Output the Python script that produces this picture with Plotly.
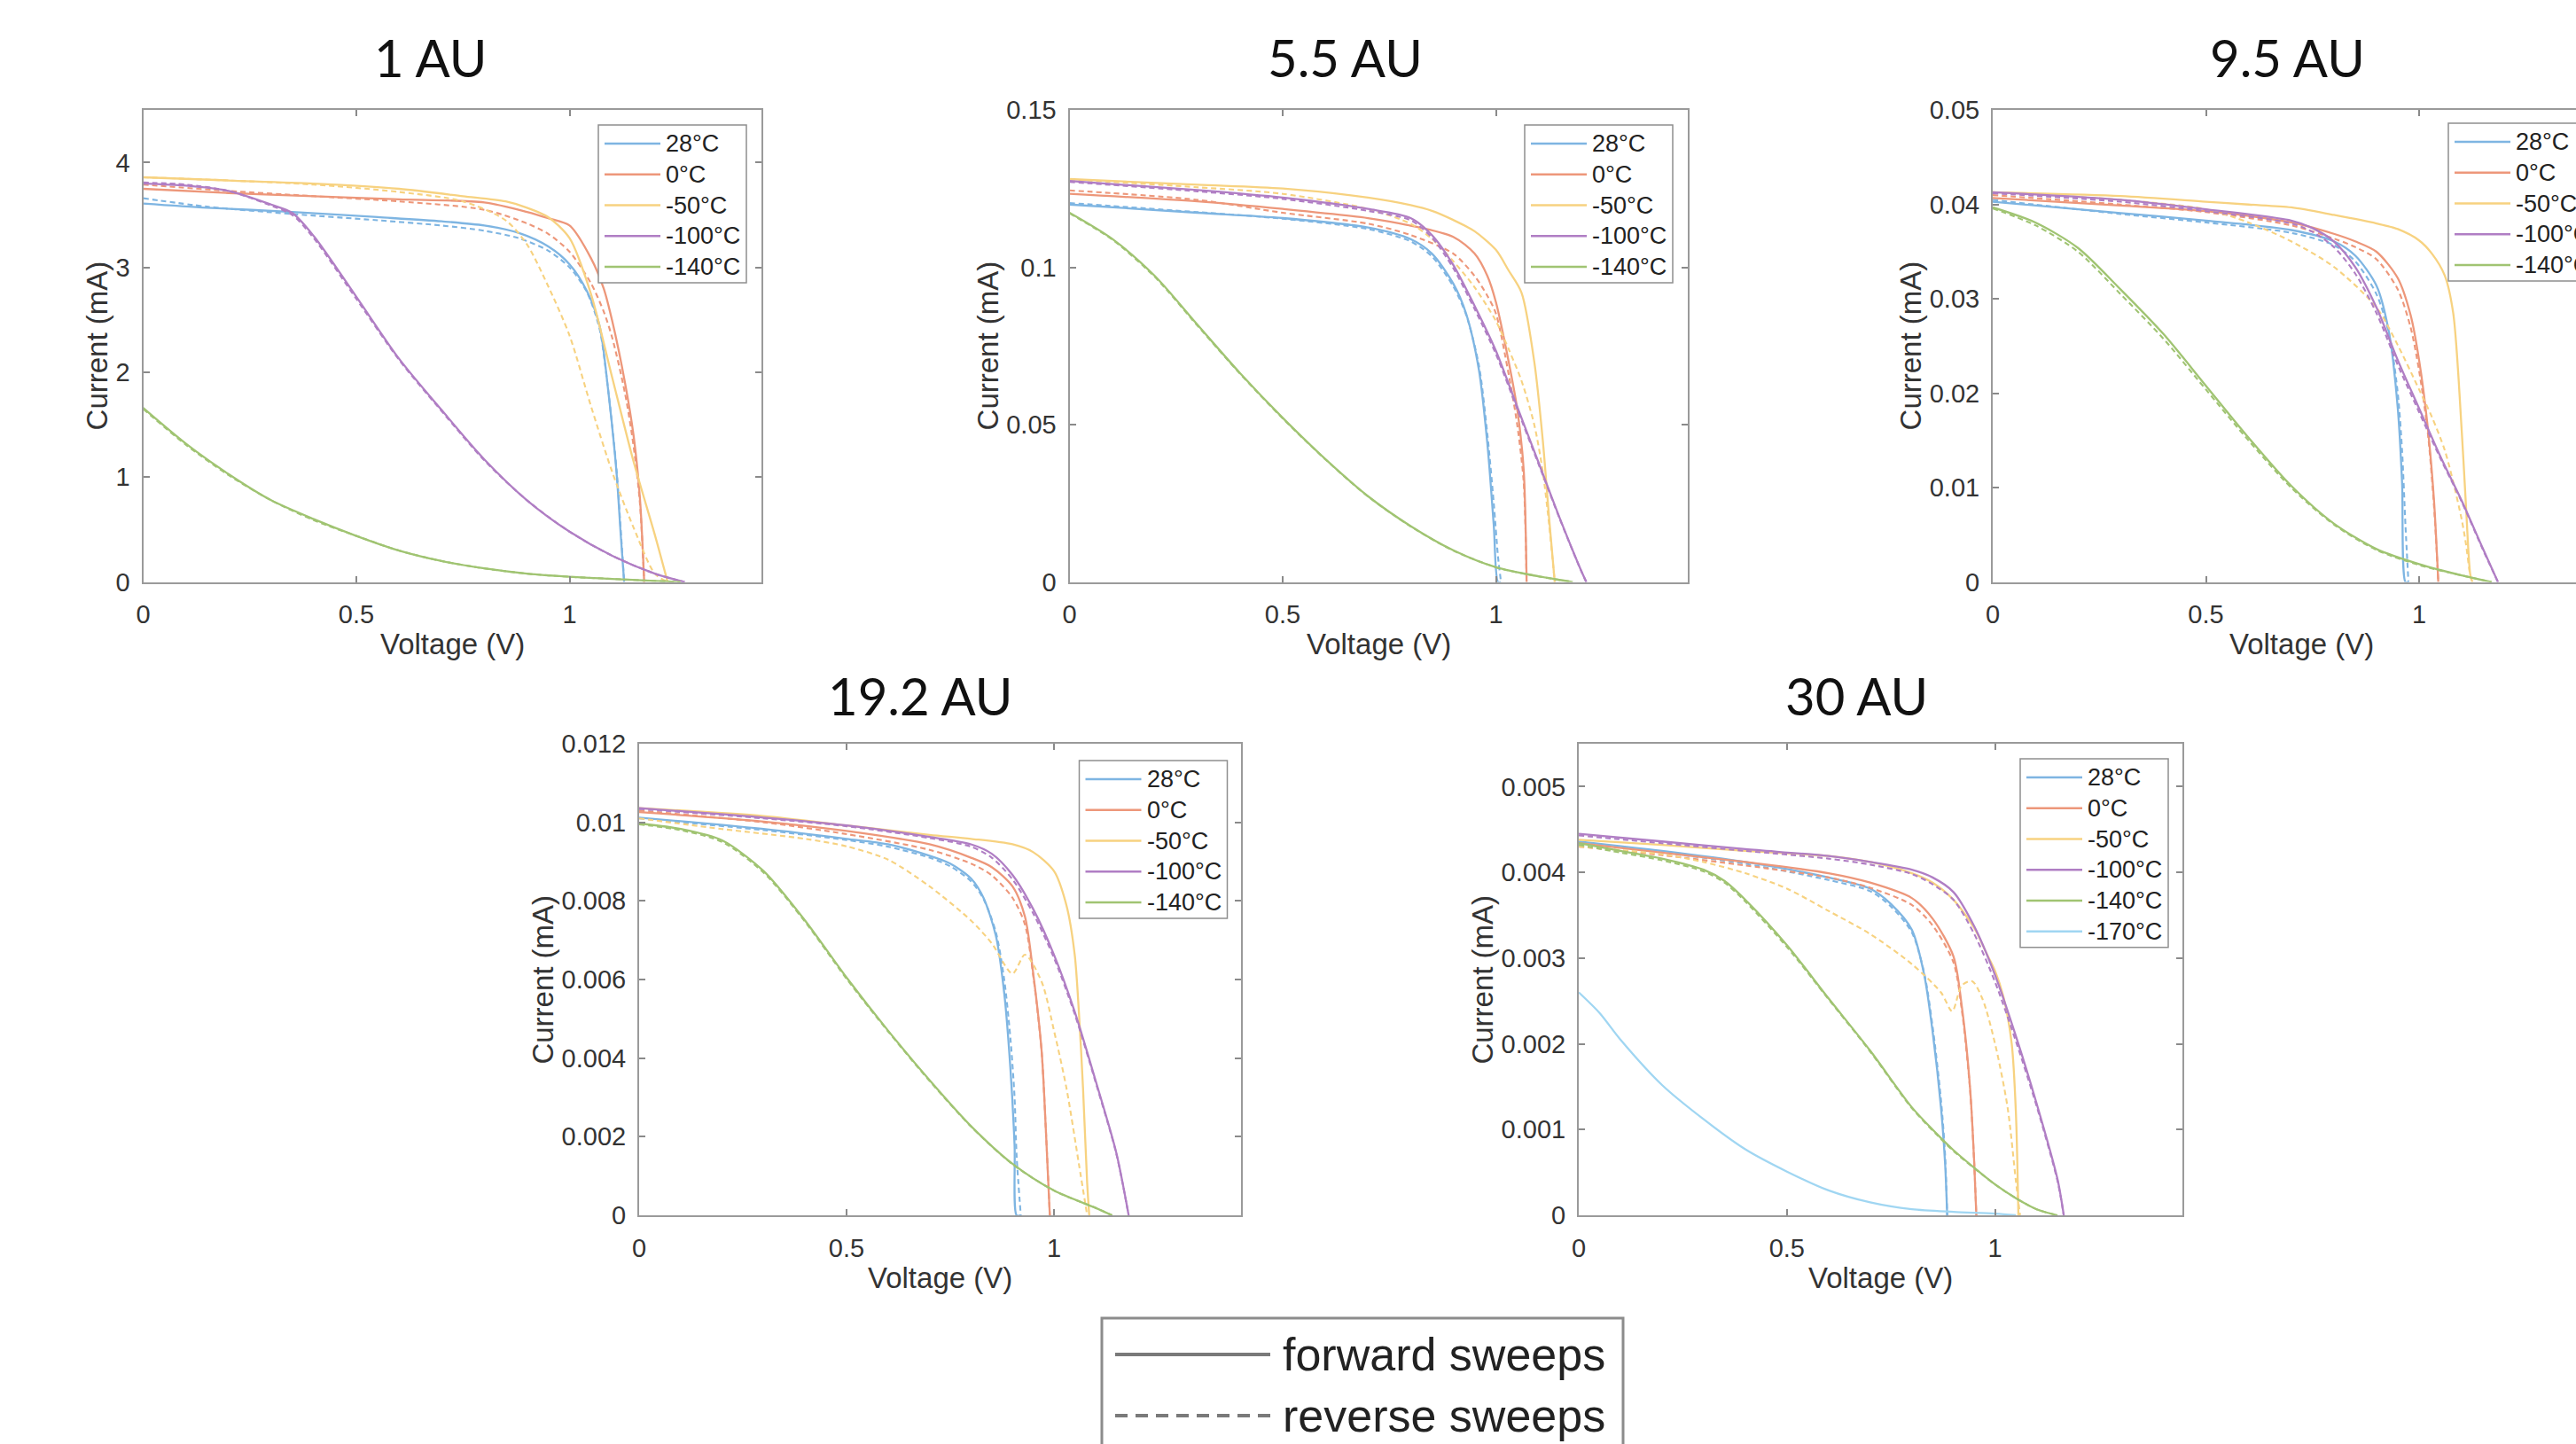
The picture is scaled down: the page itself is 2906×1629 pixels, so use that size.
import plotly.graph_objects as go

W, H = 2906, 1629

# ---------------- labels / categories ----------------
TEMPS = ["28°C", "0°C", "-50°C", "-100°C", "-140°C", "-170°C"]
COLORS = ["rgb(126,181,226)", "rgb(237,151,122)", "rgb(247,210,128)",
          "rgb(176,126,196)", "rgb(160,196,114)", "rgb(160,214,242)"]
PANEL_TITLES = ["1 AU", "5.5 AU", "9.5 AU", "19.2 AU", "30 AU"]
X_TICKS = [0, 0.5, 1]
X_TICKTEXT = ["0", "0.5", "1"]
Y_TICKS = [
    [0, 1, 2, 3, 4],
    [0, 0.05, 0.1, 0.15],
    [0, 0.01, 0.02, 0.03, 0.04, 0.05],
    [0, 0.002, 0.004, 0.006, 0.008, 0.01, 0.012],
    [0, 0.001, 0.002, 0.003, 0.004, 0.005],
]
Y_TICKTEXT = [
    ["0", "1", "2", "3", "4"],
    ["0", "0.05", "0.1", "0.15"],
    ["0", "0.01", "0.02", "0.03", "0.04", "0.05"],
    ["0", "0.002", "0.004", "0.006", "0.008", "0.01", "0.012"],
    ["0", "0.001", "0.002", "0.003", "0.004", "0.005"],
]
Y_MAX = [4.5, 0.15, 0.05, 0.012, 0.0055]
X_LABEL = "Voltage (V)"
Y_LABEL = "Current (mA)"
SWEEP_LABELS = ["forward sweeps", "reverse sweeps"]

# ---------------- 1 AU ----------------
AU1_28_V = [0, 0.15, 0.35, 0.55, 0.7, 0.8, 0.88, 0.95, 1.0, 1.04, 1.07, 1.09, 1.11, 1.12, 1.128]
AU1_28_F = [3.61, 3.57, 3.53, 3.48, 3.44, 3.40, 3.33, 3.20, 3.03, 2.78, 2.45, 1.85, 1.05, 0.45, 0.0]
AU1_28_R = [3.66, 3.58, 3.51, 3.45, 3.40, 3.35, 3.28, 3.16, 3.00, 2.77, 2.42, 1.85, 1.08, 0.50, 0.0]
AU1_0_V = [0, 0.2, 0.4, 0.6, 0.8, 0.9, 0.95, 1.0, 1.05, 1.08, 1.1, 1.13, 1.15, 1.165, 1.175]
AU1_0_F = [3.75, 3.71, 3.68, 3.65, 3.62, 3.53, 3.47, 3.40, 3.09, 2.80, 2.49, 1.90, 1.40, 0.80, 0.0]
AU1_0_R = [3.79, 3.73, 3.68, 3.63, 3.55, 3.42, 3.32, 3.15, 2.85, 2.58, 2.33, 1.80, 1.30, 0.75, 0.0]
AU1_m50_V = [0, 0.2, 0.4, 0.6, 0.75, 0.85, 0.9, 0.95, 1.0, 1.05, 1.1, 1.15, 1.2, 1.23]
AU1_m50_F = [3.86, 3.83, 3.80, 3.75, 3.68, 3.63, 3.57, 3.48, 3.28, 2.75, 1.95, 1.15, 0.45, 0.0]
AU1_m50_R = [3.86, 3.83, 3.79, 3.72, 3.63, 3.45, 3.22, 2.82, 2.35, 1.68, 1.05, 0.52, 0.08, 0.0]
AU1_m100_V = [0, 0.1, 0.2, 0.3, 0.35, 0.4, 0.5, 0.6, 0.7, 0.8, 0.9, 1.0, 1.1, 1.2, 1.27]
AU1_m100_F = [3.80, 3.78, 3.73, 3.60, 3.52, 3.30, 2.72, 2.13, 1.64, 1.17, 0.78, 0.48, 0.25, 0.08, 0.0]
AU1_m100_R = [3.81, 3.79, 3.73, 3.59, 3.50, 3.28, 2.70, 2.12, 1.63, 1.16, 0.78, 0.48, 0.25, 0.08, 0.0]
AU1_m140_V = [0, 0.1, 0.2, 0.3, 0.4, 0.5, 0.6, 0.7, 0.8, 0.9, 1.0, 1.1, 1.2, 1.26]
AU1_m140_F = [1.66, 1.32, 1.03, 0.78, 0.60, 0.44, 0.30, 0.20, 0.13, 0.08, 0.05, 0.03, 0.01, 0.0]
AU1_m140_R = [1.65, 1.31, 1.02, 0.78, 0.59, 0.44, 0.30, 0.20, 0.13, 0.08, 0.05, 0.03, 0.01, 0.0]

# ---------------- 5.5 AU ----------------
AU5_28_V = [0, 0.3, 0.5, 0.7, 0.8, 0.85, 0.9, 0.93, 0.96, 0.98, 0.995, 1.005, 1.012]
AU5_28_F = [0.1200, 0.1174, 0.1157, 0.1127, 0.1090, 0.1044, 0.0949, 0.0854, 0.0676, 0.0440, 0.0180, 0.0, 0.0]
AU5_28_R = [0.1205, 0.1176, 0.1155, 0.1122, 0.1083, 0.1035, 0.0940, 0.0850, 0.0690, 0.0470, 0.0250, 0.0080, 0.0]
AU5_0_V = [0, 0.3, 0.5, 0.7, 0.8, 0.9, 0.95, 0.98, 1.0, 1.03, 1.05, 1.065, 1.072]
AU5_0_F = [0.1234, 0.1210, 0.1186, 0.1157, 0.1133, 0.1097, 0.1044, 0.0973, 0.0890, 0.0700, 0.0550, 0.0360, 0.0]
AU5_0_R = [0.1245, 0.1215, 0.1174, 0.1139, 0.1103, 0.1044, 0.0973, 0.0910, 0.0854, 0.0660, 0.0500, 0.0320, 0.0]
AU5_m50_V = [0, 0.3, 0.5, 0.7, 0.8, 0.85, 0.9, 0.95, 1.0, 1.03, 1.06, 1.09, 1.11, 1.125, 1.138]
AU5_m50_F = [0.1281, 0.1263, 0.1251, 0.1222, 0.1198, 0.1180, 0.1151, 0.1115, 0.1056, 0.0990, 0.0920, 0.0700, 0.0450, 0.0200, 0.0]
AU5_m50_R = [0.1280, 0.1255, 0.1234, 0.1186, 0.1139, 0.1091, 0.1020, 0.0937, 0.0830, 0.0740, 0.0640, 0.0500, 0.0350, 0.0180, 0.0]
AU5_m100_V = [0, 0.3, 0.5, 0.7, 0.8, 0.85, 0.9, 0.95, 1.0, 1.05, 1.1, 1.15, 1.2, 1.212]
AU5_m100_F = [0.1275, 0.1246, 0.1222, 0.1186, 0.1157, 0.1103, 0.1008, 0.0878, 0.0735, 0.0557, 0.0380, 0.0202, 0.0036, 0.0]
AU5_m100_R = [0.1272, 0.1242, 0.1218, 0.1180, 0.1150, 0.1095, 0.0998, 0.0868, 0.0725, 0.0550, 0.0375, 0.0200, 0.0035, 0.0]
AU5_m140_V = [0, 0.1, 0.2, 0.3, 0.4, 0.5, 0.6, 0.7, 0.8, 0.9, 1.0, 1.1, 1.18]
AU5_m140_F = [0.1174, 0.1091, 0.0973, 0.0818, 0.0664, 0.0522, 0.0391, 0.0273, 0.0178, 0.0101, 0.0047, 0.0018, 0.0]
AU5_m140_R = [0.1172, 0.1089, 0.0970, 0.0815, 0.0662, 0.0520, 0.0390, 0.0272, 0.0177, 0.0100, 0.0047, 0.0018, 0.0]

# ---------------- 9.5 AU ----------------
AU9_28_V = [0, 0.3, 0.5, 0.7, 0.8, 0.85, 0.9, 0.93, 0.95, 0.96, 0.968, 0.975]
AU9_28_F = [0.0403, 0.0391, 0.0383, 0.0373, 0.0361, 0.0346, 0.0314, 0.0263, 0.0184, 0.0106, 0.0, 0.0]
AU9_28_R = [0.0405, 0.0390, 0.0381, 0.0370, 0.0357, 0.0340, 0.0305, 0.0262, 0.0200, 0.0140, 0.0060, 0.0]
AU9_0_V = [0, 0.3, 0.5, 0.7, 0.8, 0.85, 0.9, 0.95, 0.98, 1.0, 1.02, 1.035, 1.045]
AU9_0_F = [0.0407, 0.0399, 0.0393, 0.0381, 0.0369, 0.0361, 0.0350, 0.0322, 0.0283, 0.0235, 0.0165, 0.0086, 0.0]
AU9_0_R = [0.0410, 0.0400, 0.0392, 0.0378, 0.0364, 0.0355, 0.0342, 0.0310, 0.0270, 0.0224, 0.0160, 0.0080, 0.0]
AU9_m50_V = [0, 0.3, 0.5, 0.6, 0.7, 0.8, 0.9, 0.95, 1.0, 1.03, 1.06, 1.08, 1.1, 1.11, 1.12, 1.125]
AU9_m50_F = [0.0413, 0.0409, 0.0403, 0.0400, 0.0397, 0.0389, 0.0380, 0.0374, 0.0362, 0.0348, 0.0325, 0.0285, 0.0160, 0.0080, 0.0008, 0.0]
AU9_m50_R = [0.0413, 0.0405, 0.0395, 0.0381, 0.0361, 0.0334, 0.0291, 0.0251, 0.0204, 0.0175, 0.0140, 0.0106, 0.0066, 0.0040, 0.0007, 0.0]
AU9_m100_V = [0, 0.3, 0.5, 0.7, 0.75, 0.8, 0.85, 0.9, 0.95, 1.0, 1.05, 1.1, 1.15, 1.185]
AU9_m100_F = [0.0413, 0.0405, 0.0395, 0.0383, 0.0375, 0.0361, 0.0334, 0.0291, 0.0235, 0.0184, 0.0133, 0.0086, 0.0035, 0.0]
AU9_m100_R = [0.0412, 0.0403, 0.0393, 0.0380, 0.0371, 0.0355, 0.0327, 0.0285, 0.0230, 0.0180, 0.0131, 0.0085, 0.0034, 0.0]
AU9_m140_V = [0, 0.1, 0.2, 0.3, 0.4, 0.5, 0.6, 0.7, 0.8, 0.9, 1.0, 1.1, 1.17]
AU9_m140_F = [0.0397, 0.0381, 0.0354, 0.0310, 0.0263, 0.0208, 0.0153, 0.0102, 0.0062, 0.0035, 0.0019, 0.0007, 0.0]
AU9_m140_R = [0.0396, 0.0378, 0.0350, 0.0305, 0.0258, 0.0204, 0.0150, 0.0100, 0.0061, 0.0034, 0.0018, 0.0007, 0.0]

# ---------------- 19.2 AU ----------------
AU19_28_V = [0, 0.3, 0.5, 0.6, 0.7, 0.75, 0.8, 0.83, 0.86, 0.88, 0.895, 0.905, 0.91, 0.92]
AU19_28_F = [0.01012, 0.00983, 0.00958, 0.00944, 0.00915, 0.00895, 0.00857, 0.00808, 0.00711, 0.00566, 0.00373, 0.00179, 0.0, 0.0]
AU19_28_R = [0.01010, 0.00980, 0.00955, 0.00938, 0.00910, 0.00888, 0.00850, 0.00805, 0.00720, 0.00600, 0.00450, 0.00300, 0.00150, 0.0]
AU19_0_V = [0, 0.3, 0.5, 0.7, 0.8, 0.85, 0.9, 0.93, 0.95, 0.97, 0.98, 0.99]
AU19_0_F = [0.01026, 0.01002, 0.00978, 0.00944, 0.00910, 0.00886, 0.00837, 0.00760, 0.00615, 0.00421, 0.00227, 0.0]
AU19_0_R = [0.01030, 0.01000, 0.00970, 0.00930, 0.00895, 0.00865, 0.00808, 0.00740, 0.00610, 0.00420, 0.00227, 0.0]
AU19_m50_V = [0, 0.3, 0.5, 0.7, 0.8, 0.9, 0.95, 1.0, 1.03, 1.05, 1.06, 1.07, 1.08, 1.085]
AU19_m50_F = [0.01036, 0.01016, 0.00992, 0.00968, 0.00958, 0.00944, 0.00924, 0.00876, 0.00789, 0.00663, 0.00518, 0.00324, 0.00082, 0.0]
AU19_m50_VR = [0, 0.2, 0.4, 0.5, 0.6, 0.7, 0.8, 0.85, 0.9, 0.93, 0.97, 1.0, 1.03, 1.06, 1.08]
AU19_m50_R = [0.01010, 0.00983, 0.00958, 0.00939, 0.00905, 0.00837, 0.00750, 0.00692, 0.00615, 0.00663, 0.00595, 0.00470, 0.00324, 0.00131, 0.0]
AU19_m100_V = [0, 0.3, 0.5, 0.7, 0.8, 0.85, 0.9, 0.95, 1.0, 1.05, 1.1, 1.15, 1.18]
AU19_m100_F = [0.01036, 0.01012, 0.00992, 0.00963, 0.00944, 0.00920, 0.00866, 0.00779, 0.00663, 0.00518, 0.00344, 0.00160, 0.0]
AU19_m100_R = [0.01034, 0.01010, 0.00990, 0.00960, 0.00938, 0.00910, 0.00855, 0.00768, 0.00655, 0.00512, 0.00340, 0.00158, 0.0]
AU19_m140_V = [0, 0.1, 0.2, 0.3, 0.4, 0.5, 0.6, 0.7, 0.8, 0.9, 1.0, 1.1, 1.14]
AU19_m140_F = [0.00997, 0.00983, 0.00954, 0.00876, 0.00750, 0.00605, 0.00470, 0.00344, 0.00227, 0.00131, 0.00063, 0.00019, 0.0]
AU19_m140_R = [0.00995, 0.00980, 0.00950, 0.00872, 0.00747, 0.00602, 0.00468, 0.00342, 0.00226, 0.00130, 0.00063, 0.00019, 0.0]

# ---------------- 30 AU ----------------
AU30_28_V = [0, 0.2, 0.4, 0.6, 0.7, 0.75, 0.8, 0.83, 0.85, 0.87, 0.88, 0.885]
AU30_28_F = [0.00436, 0.00425, 0.00412, 0.00394, 0.00381, 0.00363, 0.00333, 0.00280, 0.00214, 0.00126, 0.00060, 0.0]
AU30_28_R = [0.00434, 0.00423, 0.00410, 0.00391, 0.00378, 0.00360, 0.00330, 0.00282, 0.00220, 0.00135, 0.00070, 0.0]
AU30_0_V = [0, 0.2, 0.4, 0.6, 0.7, 0.8, 0.85, 0.9, 0.92, 0.94, 0.95, 0.955]
AU30_0_F = [0.00434, 0.00423, 0.00412, 0.00399, 0.00388, 0.00370, 0.00346, 0.00302, 0.00244, 0.00148, 0.00060, 0.0]
AU30_0_R = [0.00430, 0.00420, 0.00408, 0.00394, 0.00382, 0.00362, 0.00338, 0.00295, 0.00240, 0.00146, 0.00060, 0.0]
AU30_m50_V = [0, 0.2, 0.4, 0.6, 0.7, 0.8, 0.85, 0.9, 0.95, 0.98, 1.0, 1.02, 1.04, 1.05, 1.056]
AU30_m50_F = [0.00438, 0.00432, 0.00425, 0.00419, 0.00412, 0.00399, 0.00388, 0.00368, 0.00335, 0.00305, 0.00285, 0.00255, 0.00200, 0.00120, 0.0]
AU30_m50_VR = [0, 0.2, 0.3, 0.4, 0.5, 0.6, 0.7, 0.8, 0.87, 0.897, 0.92, 0.945, 0.97, 1.0, 1.03, 1.05, 1.06]
AU30_m50_R = [0.00430, 0.00421, 0.00412, 0.00399, 0.00381, 0.00355, 0.00328, 0.00293, 0.00260, 0.00238, 0.00268, 0.00273, 0.00252, 0.00200, 0.00126, 0.00040, 0.0]
AU30_m100_V = [0, 0.2, 0.4, 0.6, 0.7, 0.8, 0.85, 0.9, 0.95, 1.0, 1.05, 1.1, 1.15, 1.165]
AU30_m100_F = [0.00445, 0.00436, 0.00427, 0.00419, 0.00412, 0.00403, 0.00394, 0.00377, 0.00337, 0.00280, 0.00209, 0.00130, 0.00042, 0.0]
AU30_m100_R = [0.00443, 0.00434, 0.00425, 0.00416, 0.00409, 0.00398, 0.00386, 0.00368, 0.00328, 0.00272, 0.00203, 0.00127, 0.00040, 0.0]
AU30_m140_V = [0, 0.1, 0.2, 0.3, 0.35, 0.4, 0.5, 0.6, 0.7, 0.8, 0.86, 0.9, 1.0, 1.05, 1.1, 1.15]
AU30_m140_F = [0.00434, 0.00425, 0.00416, 0.00403, 0.00390, 0.00368, 0.00315, 0.00253, 0.00192, 0.00126, 0.00095, 0.00076, 0.00036, 0.00020, 0.00007, 0.0]
AU30_m140_R = [0.00432, 0.00423, 0.00414, 0.00401, 0.00388, 0.00366, 0.00313, 0.00252, 0.00191, 0.00125, 0.00094, 0.00075, 0.00036, 0.00020, 0.00007, 0.0]
AU30_m170_V = [0, 0.05, 0.1, 0.2, 0.3, 0.4, 0.5, 0.6, 0.7, 0.8, 0.9, 1.0, 1.05]
AU30_m170_F = [0.00260, 0.00236, 0.00205, 0.00152, 0.00112, 0.00077, 0.00051, 0.00029, 0.00015, 0.00007, 0.00004, 0.00002, 0.0]

# (V_fwd, I_fwd, V_rev, I_rev) per temperature, per panel
PANEL_CURVES = [
    [(AU1_28_V, AU1_28_F, AU1_28_V, AU1_28_R), (AU1_0_V, AU1_0_F, AU1_0_V, AU1_0_R),
     (AU1_m50_V, AU1_m50_F, AU1_m50_V, AU1_m50_R), (AU1_m100_V, AU1_m100_F, AU1_m100_V, AU1_m100_R),
     (AU1_m140_V, AU1_m140_F, AU1_m140_V, AU1_m140_R)],
    [(AU5_28_V, AU5_28_F, AU5_28_V, AU5_28_R), (AU5_0_V, AU5_0_F, AU5_0_V, AU5_0_R),
     (AU5_m50_V, AU5_m50_F, AU5_m50_V, AU5_m50_R), (AU5_m100_V, AU5_m100_F, AU5_m100_V, AU5_m100_R),
     (AU5_m140_V, AU5_m140_F, AU5_m140_V, AU5_m140_R)],
    [(AU9_28_V, AU9_28_F, AU9_28_V, AU9_28_R), (AU9_0_V, AU9_0_F, AU9_0_V, AU9_0_R),
     (AU9_m50_V, AU9_m50_F, AU9_m50_V, AU9_m50_R), (AU9_m100_V, AU9_m100_F, AU9_m100_V, AU9_m100_R),
     (AU9_m140_V, AU9_m140_F, AU9_m140_V, AU9_m140_R)],
    [(AU19_28_V, AU19_28_F, AU19_28_V, AU19_28_R), (AU19_0_V, AU19_0_F, AU19_0_V, AU19_0_R),
     (AU19_m50_V, AU19_m50_F, AU19_m50_VR, AU19_m50_R), (AU19_m100_V, AU19_m100_F, AU19_m100_V, AU19_m100_R),
     (AU19_m140_V, AU19_m140_F, AU19_m140_V, AU19_m140_R)],
    [(AU30_28_V, AU30_28_F, AU30_28_V, AU30_28_R), (AU30_0_V, AU30_0_F, AU30_0_V, AU30_0_R),
     (AU30_m50_V, AU30_m50_F, AU30_m50_VR, AU30_m50_R), (AU30_m100_V, AU30_m100_F, AU30_m100_V, AU30_m100_R),
     (AU30_m140_V, AU30_m140_F, AU30_m140_V, AU30_m140_R), (AU30_m170_V, AU30_m170_F, None, None)],
]

# ---------------- layout (pixel geometry) ----------------
PANEL_BOX = [  # left, right, top, bottom (px), x max
    (161.5, 859.0, 124.3, 656.6, 1.45),
    (1206.5, 1904.0, 124.3, 656.6, 1.45),
    (2248.0, 2906.0, 124.3, 656.6, (2906.0 - 2248.0) / 481.0),
    (721.0, 1399.6, 839.0, 1371.0, 1.45),
    (1781.0, 2462.0, 839.0, 1371.0, 1.45),
]
TITLE_POS = [(486, 64), (1517, 64), (2580, 64), (1038, 784), (2094, 784)]
YLABEL_X = [109, 1114, 2155, 611.6, 1671.6]
LEGEND_POS = [(675, 141), (1720, 141), (2762, 139), (1217.5, 858), (2279, 856)]

TICK_FONT = dict(family="Liberation Sans, Arial, sans-serif", size=29, color="#333333")
AXIS_COLOR = "#9a9a9a"


def px(x):
    return x / W


def py(y):
    return 1 - y / H


fig = go.Figure()
shapes = []
annotations = []

for p in range(5):
    left, right, top, bottom, xmax = PANEL_BOX[p]
    xa = "xaxis" if p == 0 else f"xaxis{p + 1}"
    ya = "yaxis" if p == 0 else f"yaxis{p + 1}"
    xref = "x" if p == 0 else f"x{p + 1}"
    yref = "y" if p == 0 else f"y{p + 1}"

    fig.layout[xa] = dict(
        domain=[px(left), min(1.0, px(right))], anchor=yref, range=[0, xmax],
        tickvals=X_TICKS, ticktext=X_TICKTEXT, ticks="inside", ticklen=7, tickwidth=1.5,
        tickcolor="#8a8a8a", showline=True, linecolor=AXIS_COLOR, linewidth=2,
        mirror="allticks", showgrid=False, zeroline=False, tickfont=TICK_FONT,
        ticklabelstandoff=10, fixedrange=True, automargin=False)
    fig.layout[ya] = dict(
        domain=[py(bottom), py(top)], anchor=xref, range=[0, Y_MAX[p]],
        tickvals=Y_TICKS[p], ticktext=Y_TICKTEXT[p], ticks="inside", ticklen=7, tickwidth=1.5,
        tickcolor="#8a8a8a", showline=True, linecolor=AXIS_COLOR, linewidth=2,
        mirror=("allticks" if p != 2 else False), showgrid=False, zeroline=False,
        tickfont=TICK_FONT, ticklabelstandoff=7, fixedrange=True, automargin=False)

    for t, (vf, i_f, vr, i_r) in enumerate(PANEL_CURVES[p]):
        fig.add_trace(go.Scatter(
            x=vf, y=i_f, mode="lines", xaxis=xref, yaxis=yref, showlegend=False,
            line=dict(color=COLORS[t], width=2.3, shape="spline", smoothing=0.8)))
        if vr is not None:
            fig.add_trace(go.Scatter(
                x=vr, y=i_r, mode="lines", xaxis=xref, yaxis=yref, showlegend=False,
                line=dict(color=COLORS[t], width=2.1, dash="6px,4px",
                          shape="spline", smoothing=0.8)))

    # panel title
    tx, ty = TITLE_POS[p]
    annotations.append(dict(x=px(tx), y=py(ty), xref="paper", yref="paper",
                            text=PANEL_TITLES[p], showarrow=False, xanchor="center",
                            yanchor="middle", font=dict(family="Lato, sans-serif", size=58,
                                                        color="#111111")))
    # axis titles
    full_right = left + 1.45 * (right - left) / xmax
    annotations.append(dict(x=px((left + full_right) / 2), y=py(bottom + 70), xref="paper",
                            yref="paper", text=X_LABEL, showarrow=False, xanchor="center",
                            yanchor="middle",
                            font=dict(family="Liberation Sans, Arial", size=33, color="#333333")))
    annotations.append(dict(x=px(YLABEL_X[p]), y=py((top + bottom) / 2), xref="paper",
                            yref="paper", text=Y_LABEL, showarrow=False, textangle=-90,
                            xanchor="center", yanchor="middle",
                            font=dict(family="Liberation Sans, Arial", size=33, color="#333333")))

    # in-panel legend (MATLAB style)
    lx, ly = LEGEND_POS[p]
    n = len(PANEL_CURVES[p])
    lh = 21 + (n - 1) * 34.75 + 18
    shapes.append(dict(type="rect", xref="paper", yref="paper", layer="above",
                       x0=px(lx), x1=px(lx + 167), y0=py(ly + lh), y1=py(ly),
                       line=dict(color="#8f8f8f", width=1.5), fillcolor="white"))
    for t in range(n):
        ry = ly + 21 + t * 34.75
        shapes.append(dict(type="line", xref="paper", yref="paper", layer="above",
                           x0=px(lx + 7), x1=px(lx + 70), y0=py(ry), y1=py(ry),
                           line=dict(color=COLORS[t], width=2.5)))
        annotations.append(dict(x=px(lx + 74), y=py(ry), xref="paper", yref="paper",
                                text=TEMPS[t], showarrow=False, xanchor="left",
                                yanchor="middle",
                                font=dict(family="Liberation Sans, Arial", size=27,
                                          color="#222222")))

# bottom sweep legend
shapes.append(dict(type="rect", xref="paper", yref="paper", layer="above",
                   x0=px(1243), x1=px(1831), y0=py(1665), y1=py(1487),
                   line=dict(color="#8c8c8c", width=3), fillcolor="white"))
for k, (yy, dash) in enumerate([(1528, "solid"), (1597, "14px,9px")]):
    shapes.append(dict(type="line", xref="paper", yref="paper", layer="above",
                       x0=px(1258), x1=px(1433), y0=py(yy), y1=py(yy),
                       line=dict(color="#7a7a7a", width=4, dash=dash)))
    annotations.append(dict(x=px(1445), y=py(yy), xref="paper", yref="paper",
                            text=SWEEP_LABELS[k], showarrow=False, xanchor="left",
                            yanchor="middle",
                            font=dict(family="Liberation Sans, Arial", size=52, color="#222222")))

fig.update_layout(width=W, height=H, margin=dict(l=0, r=0, t=0, b=0, autoexpand=False),
                  paper_bgcolor="white", plot_bgcolor="white",
                  shapes=shapes, annotations=annotations, showlegend=False)

fig.write_html("out.html", config={"displayModeBar": False},
               post_script="document.body.style.margin='0';document.body.style.overflow='hidden';")
